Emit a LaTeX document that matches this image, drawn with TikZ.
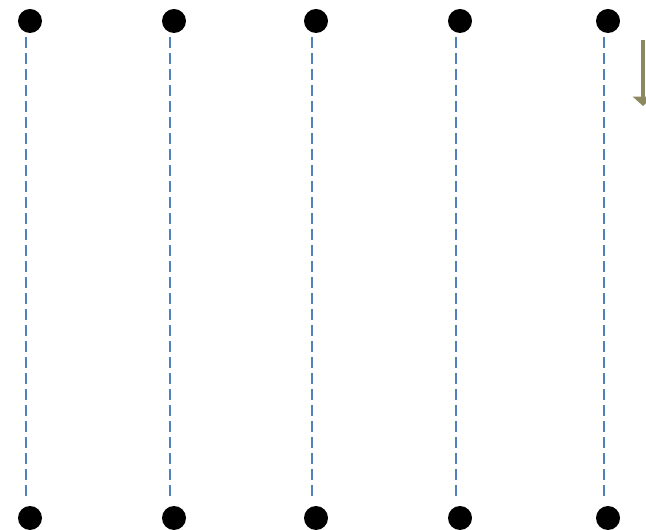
\documentclass[tikz,border=0pt]{standalone}
\usepackage{xcolor}
\usetikzlibrary{arrows.meta, positioning, backgrounds}

\definecolor{wireblue}{RGB}{79,129,189}
\definecolor{olivearrow}{RGB}{140,136,96}

\begin{document}
\begin{tikzpicture}[
        x=0.75pt, y=-0.75pt,
        dot/.style={circle, fill=black, draw=none, minimum size=18pt, inner sep=0pt},
        wire/.style={wireblue, line width=2pt, dash pattern=on 8pt off 4pt},
        arr/.style={-{Triangle[length=7pt, width=15pt]}, olivearrow, line width=3pt},
    ]
        \useasboundingbox (0,0) rectangle (646,530);

        % Dots and wires
        \foreach \i/\x in {1/30, 2/174, 3/316, 4/460, 5/608} {
            \node[dot] (top\i) at (\x,21) {};
            \node[dot] (bot\i) at (\x,518) {};
            \begin{pgfonlayer}{background}
                \draw[wire] ([xshift=-3pt]top\i.center) -- ([xshift=-3pt, yshift=4.5pt]bot\i.north);
            \end{pgfonlayer}
        }

        % Arrow
        \coordinate (arrstart) at (643,40);
        \coordinate (arrend) at (643,106);
        \draw[arr] (arrstart) -- (arrend);
    \end{tikzpicture}
\end{document}
